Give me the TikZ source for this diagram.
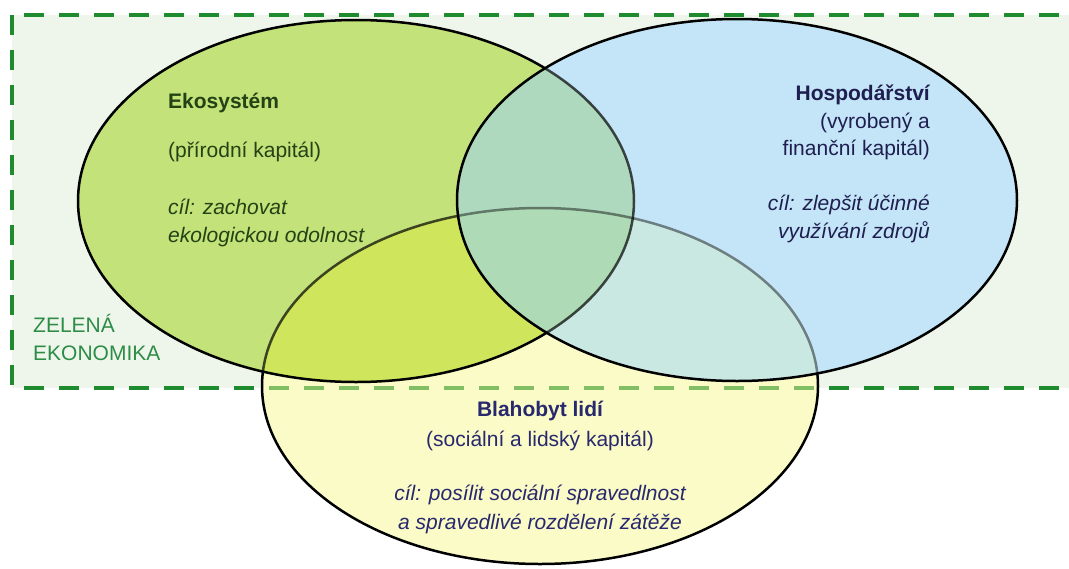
\documentclass[tikz,border=0pt]{standalone}
\usepackage{fontspec}
\setmainfont{Liberation Sans}
\definecolor{bgc}{RGB}{238,246,235}
\definecolor{cG}{RGB}{195,226,122}
\definecolor{cB}{RGB}{196,229,247}
\definecolor{cGB}{RGB}{174,217,190}
\definecolor{cY}{RGB}{250,251,198}
\definecolor{cYG}{RGB}{206,229,92}
\definecolor{cYB}{RGB}{202,232,226}
\definecolor{cYGB}{RGB}{174,218,181}
\definecolor{dashc}{RGB}{30,140,46}
\definecolor{dashfade}{RGB}{130,190,100}
\definecolor{tgreen}{RGB}{36,66,20}
\definecolor{tblue}{RGB}{30,30,80}
\definecolor{tnavy}{RGB}{40,40,110}
\definecolor{tzel}{RGB}{45,140,70}
\begin{document}
\begin{tikzpicture}[x=1pt,y=-1pt,
  ellG/.style={insert path={(356,201) ellipse [x radius=278pt, y radius=181pt]}},
  ellB/.style={insert path={(737,200) ellipse [x radius=280pt, y radius=181pt]}},
  ellY/.style={insert path={(540,386) ellipse [x radius=278pt, y radius=178pt]}},
  boxpath/.style={insert path={(12,15) rectangle (1090,388)}},
  dashbox/.style={line width=3.2pt, dash pattern=on 20pt off 15pt},
  rim/.style={line width=2.5pt},
  txt/.style={inner sep=0pt, font=\fontsize{21}{25}\selectfont},
  btxt/.style={txt, font=\fontsize{21}{25}\selectfont\bfseries},
  itxt/.style={txt, font=\fontsize{21}{25}\selectfont\itshape}
]
\useasboundingbox (0,0) rectangle (1069,568);
% background box
\fill[bgc, boxpath];
\draw[dashbox, draw=dashc, boxpath];
% yellow
\fill[cY, ellY];
\begin{scope}
  \clip[ellY];
  \draw[dashbox, draw=dashfade, boxpath];
\end{scope}
\draw[rim, ellY];
% green
\fill[cG, ellG];
\begin{scope}
  \clip[ellY];
  \fill[cYG, ellG];
\end{scope}
\begin{scope}
  \clip[ellG];
  \draw[rim, draw opacity=0.7, ellY];
\end{scope}
\draw[rim, ellG];
% blue
\fill[cB, ellB];
\begin{scope}
  \clip[ellG];
  \fill[cGB, ellB];
\end{scope}
\begin{scope}
  \clip[ellY];
  \fill[cYB, ellB];
\end{scope}
\begin{scope}
  \clip[ellY];
  \clip[ellG];
  \fill[cYGB, ellB];
\end{scope}
\begin{scope}
  \clip[ellB];
  \draw[rim, draw opacity=0.7, ellG];
  \draw[rim, draw opacity=0.45, ellY];
\end{scope}
\draw[rim, ellB];
% texts: Ekosystem
\node[btxt, text=tgreen, anchor=base west] (g1) at (168,108) {Ekosystém};
\node[txt, text=tgreen, anchor=base west] (g2) at (168,157) {(přírodní kapitál)};
\node[itxt, text=tgreen, anchor=base west] (g3) at (168,214) {cíl: zachovat};
\node[itxt, text=tgreen, anchor=base west] (g4) at (168,242) {ekologickou odolnost};
% Hospodarstvi
\node[btxt, text=tblue, anchor=base east] (b1) at (930,100) {Hospodářství};
\node[txt, text=tblue, anchor=base east] (b2) at (930,128) {(vyrobený a};
\node[txt, text=tblue, anchor=base east] (b3) at (930,155) {finanční kapitál)};
\node[itxt, text=tblue, anchor=base east] (b4) at (930,210) {cíl: zlepšit účinné};
\node[itxt, text=tblue, anchor=base east] (b5) at (930,238) {využívání zdrojů};
% Blahobyt
\node[btxt, text=tnavy, anchor=base] (y1) at (540,416) {Blahobyt lidí};
\node[txt, text=tnavy, anchor=base] (y2) at (540,446) {(sociální a lidský kapitál)};
\node[itxt, text=tnavy, anchor=base] (y3) at (540,500) {cíl: posílit sociální spravedlnost};
\node[itxt, text=tnavy, anchor=base] (y4) at (540,529) {a spravedlivé rozdělení zátěže};
% Zelena ekonomika
\node[txt, text=tzel, anchor=base west] (z1) at (33,332) {ZELENÁ};
\node[txt, text=tzel, anchor=base west] (z2) at (33,360) {EKONOMIKA};
\end{tikzpicture}
\end{document}
